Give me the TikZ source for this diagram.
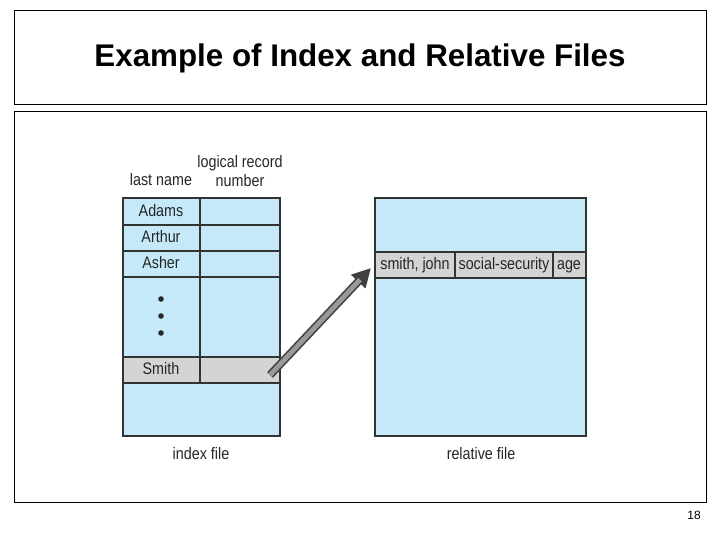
\documentclass[tikz,border=0pt]{standalone}
\usepackage{fontspec}
\setmainfont{Liberation Sans}
\newfontfamily\narrowsans{Liberation Sans}[FakeStretch=0.86]
\usetikzlibrary{arrows.meta,positioning}
\definecolor{filebg}{RGB}{197,233,248}
\definecolor{rowgray}{RGB}{212,212,212}
\tikzset{
  cell/.style={draw=black!80, line width=0.8pt, fill=filebg},
  hit/.style={draw=black!80, line width=0.8pt, fill=rowgray},
  lbl/.style={font=\narrowsans\fontsize{12.5}{14}\selectfont, text=black!85, inner sep=0pt, text height=9pt, text depth=2.5pt},
  frame/.style={draw=black, line width=0.6pt}
}
\begin{document}
\begin{tikzpicture}[x=0.75pt,y=-0.75pt]
  \useasboundingbox (0,0) rectangle (720,540);
  % frames
  \draw[frame] (14,10) rectangle (706,104);
  \draw[frame] (14,111) rectangle (706,502);
  \node[font=\bfseries\fontsize{23.5}{28}\selectfont] (title) at (360,58) {Example of Index and Relative Files};
  \node[font=\fontsize{9}{11}\selectfont] (page) at (694,515) {18};

  % index file
  \fill[filebg] (123,198) rectangle (280,436);
  \draw[cell] (123,198) rectangle (200,225) (200,198) rectangle (280,225);
  \draw[cell] (123,225) rectangle (200,251) (200,225) rectangle (280,251);
  \draw[cell] (123,251) rectangle (200,277) (200,251) rectangle (280,277);
  \draw[cell] (123,277) rectangle (200,357) (200,277) rectangle (280,357);
  \draw[hit] (123,357) rectangle (200,383) (200,357) rectangle (280,383);
  \draw[cell] (123,383) rectangle (280,436);
  \node[lbl] (adams) at (161,212) {Adams};
  \node[lbl] (arthur) at (161,238) {Arthur};
  \node[lbl] (asher) at (161,264) {Asher};
  \node[lbl] (smith) at (161,370) {Smith};
  \foreach \y in {299,316,333}
    \fill[black!85] (161,\y) circle (2.8);
  \node[lbl] (lastname) at (161,181) {last name};
  \node[lbl, align=center, text height=, text depth=] (lrn) at (240,171) {logical record\\number};
  \node[lbl] (indexcap) at (201,455) {index file};

  % relative file
  \draw[cell] (375,198) rectangle (586,436);
  \draw[hit] (375,252) rectangle (455,278) (455,252) rectangle (553,278) (553,252) rectangle (586,278);
  \node[lbl] (name) at (415,265) {smith, john};
  \node[lbl] (ssn) at (504,265) {social-security};
  \node[lbl] (age) at (569,265) {age};
  \node[lbl] (relcap) at (481,455) {relative file};

  % pointer
  \coordinate (from) at (270,375);
  \coordinate (to) at (371,268);
  \draw[line width=6pt, black!75, -{Triangle[length=14pt,width=14pt]}] (from) -- (to);
  \draw[line width=3.6pt, gray!80, shorten >=12pt] (from) -- (to);
\end{tikzpicture}
\end{document}
